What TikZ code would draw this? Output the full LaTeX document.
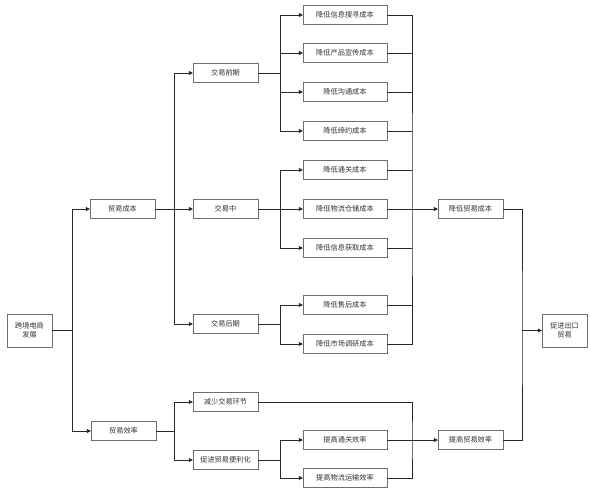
\documentclass[tikz,border=0pt]{standalone}
\usepackage{fontspec}
\setmainfont{Noto Sans CJK SC}
\definecolor{linegray}{RGB}{40, 40, 40}
\definecolor{boxgray}{RGB}{110, 110, 110}
\definecolor{textgray}{RGB}{50, 50, 50}
\usetikzlibrary{arrows.meta, positioning, calc}

\begin{document}
\begin{tikzpicture}[
  x=1pt, y=-1pt,
  box/.style={draw=boxgray, fill=white, inner sep=1pt, font=\fontsize{7.2}{9}\selectfont, text=textgray, align=center, minimum height=19pt},
  mid/.style={box, minimum width=65pt},
  leaf/.style={box, minimum width=84pt},
  big/.style={box, minimum width=45pt, minimum height=33pt},
  link/.style={linegray, line width=0.5pt},
  arr/.style={link, -{Triangle[length=4pt, width=4pt]}}
]
  \useasboundingbox (0,0) rectangle (591,494);

  % left side
  \node[big] (root) at (29.5,330.5) {跨境电商\\发展};
  \node[mid] (cost) at (122.5,209) {贸易成本};
  \node[mid] (eff) at (123.5,431) {贸易效率};

  % middle column
  \node[mid] (pre) at (225.5,73) {交易前期};
  \node[mid] (dur) at (225.5,209) {交易中};
  \node[mid] (post) at (225.5,324) {交易后期};
  \node[mid] (less) at (225.5,402) {减少交易环节};
  \node[mid] (ease) at (225.5,460) {促进贸易便利化};

  % leaves
  \node[leaf] (c1) at (345,15) {降低信息搜寻成本};
  \node[leaf] (c2) at (345,53) {降低产品宣传成本};
  \node[leaf] (c3) at (345,92) {降低沟通成本};
  \node[leaf] (c4) at (345,131) {降低缔约成本};
  \node[leaf] (c5) at (345,170) {降低通关成本};
  \node[leaf] (c6) at (345,209) {降低物流仓储成本};
  \node[leaf] (c7) at (345,248) {降低信息获取成本};
  \node[leaf] (c8) at (345,305) {降低售后成本};
  \node[leaf] (c9) at (345,344) {降低市场调研成本};
  \node[leaf] (e1) at (345,440) {提高通关效率};
  \node[leaf] (e2) at (345,478) {提高物流运输效率};

  % right side
  \node[mid] (lowc) at (470.5,209) {降低贸易成本};
  \node[mid] (hie) at (470.5,440) {提高贸易效率};
  \node[big] (exp) at (564.5,330.5) {促进出口\\贸易};

  % junctions
  \coordinate (jroot) at (72,330.5);
  \coordinate (jcost) at (174,209);
  \coordinate (jeff) at (174,431);
  \coordinate (jpre) at (280,73);
  \coordinate (jdur) at (280,209);
  \coordinate (jpost) at (280,324);
  \coordinate (jease) at (280,460);
  \coordinate (bcost) at (412,209);
  \coordinate (beff) at (412,440);
  \coordinate (jexp) at (522,330.5);

  \draw[link] (root.east) -- (jroot);
  \draw[arr] (jroot) |- (cost.west);
  \draw[arr] (jroot) |- (eff.west);

  \draw[link] (cost.east) -- (jcost);
  \draw[arr] (jcost) |- (pre.west);
  \draw[arr] (jcost) -- (dur.west);
  \draw[arr] (jcost) |- (post.west);
  \draw[link] (eff.east) -- (jeff);
  \draw[arr] (jeff) |- (less.west);
  \draw[arr] (jeff) |- (ease.west);

  \draw[link] (pre.east) -- (jpre);
  \draw[arr] (jpre) |- (c1.west);
  \draw[arr] (jpre) |- (c2.west);
  \draw[arr] (jpre) |- (c3.west);
  \draw[arr] (jpre) |- (c4.west);
  \draw[link] (dur.east) -- (jdur);
  \draw[arr] (jdur) |- (c5.west);
  \draw[arr] (jdur) -- (c6.west);
  \draw[arr] (jdur) |- (c7.west);
  \draw[link] (post.east) -- (jpost);
  \draw[arr] (jpost) |- (c8.west);
  \draw[arr] (jpost) |- (c9.west);
  \draw[link] (ease.east) -- (jease);
  \draw[arr] (jease) |- (e1.west);
  \draw[arr] (jease) |- (e2.west);

  % cost bus
  \draw[link] (c1.east) -| (bcost) |- (c9.east);
  \foreach \n in {c2,c3,c4,c5,c6,c7,c8}
    \draw[link] (\n.east) -- (\n.east -| bcost);
  \draw[arr] (bcost) -- (lowc.west);

  % efficiency bus
  \draw[link] (less.east) -| (beff) |- (e2.east);
  \draw[link] (e1.east) -- (beff);
  \draw[arr] (beff) -- (hie.west);

  \draw[link] (lowc.east) -| (jexp) |- (hie.east);
  \draw[arr] (jexp) -- (exp.west);
\end{tikzpicture}
\end{document}
